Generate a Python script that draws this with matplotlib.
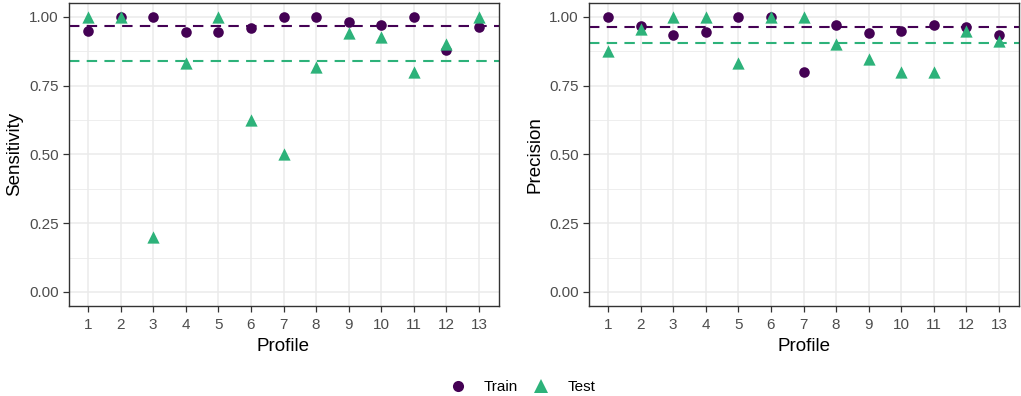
import matplotlib
matplotlib.use("Agg")
import matplotlib.pyplot as plt
from matplotlib.lines import Line2D
import numpy as np

plt.rcParams['font.family'] = ['Liberation Sans', 'DejaVu Sans']

profiles = list(range(1, 14))
sens_train = [0.95, 1.00, 1.00, 0.943, 0.946, 0.959, 1.00, 1.00, 0.98, 0.971, 1.00, 0.88, 0.964]
sens_test = [1.00, 1.00, 0.20, 0.833, 1.00, 0.625, 0.50, 0.818, 0.941, 0.925, 0.80, 0.90, 1.00]
prec_train = [1.00, 0.968, 0.934, 0.943, 1.00, 1.00, 0.80, 0.97, 0.941, 0.947, 0.97, 0.964, 0.934]
prec_test = [0.877, 0.954, 1.00, 1.00, 0.831, 1.00, 1.00, 0.90, 0.846, 0.80, 0.80, 0.95, 0.913]
sens_means = {"Train": 0.967, "Test": 0.838}
prec_means = {"Train": 0.964, "Test": 0.904}
yticks = [0.00, 0.25, 0.50, 0.75, 1.00]
ytick_labels = ["0.00", "0.25", "0.50", "0.75", "1.00"]

c_train = "#440154"
c_test = "#2DB27A"

W, H = 1021, 396
fig = plt.figure(figsize=(W / 100, H / 100), dpi=100)

def px_axes(x0, x1, ytop, ybot):
    return fig.add_axes([x0 / W, 1 - ybot / H, (x1 - x0) / W, (ybot - ytop) / H])

axL = px_axes(68.5, 498.5, 3, 305.7)
axR = px_axes(588.5, 1018.5, 3, 305.7)

def draw(ax, train, test, means, ylabel):
    ax.set_facecolor("white")
    for y in np.arange(0.125, 1.0, 0.25):
        ax.axhline(y, color="#EBEBEB", lw=0.6, zorder=0)
    for y in yticks:
        ax.axhline(y, color="#EBEBEB", lw=1.1, zorder=0)
    for x in profiles:
        ax.axvline(x, color="#EBEBEB", lw=1.1, zorder=0)
    ax.axhline(means["Train"], color=c_train, lw=1.5, ls=(0, (5, 3.5)), zorder=2)
    ax.axhline(means["Test"], color=c_test, lw=1.5, ls=(0, (5, 3.5)), zorder=2)
    ax.scatter(profiles, train, s=58, marker="o", color=c_train, linewidths=0, zorder=3)
    ax.scatter(profiles, test, s=78, marker="^", color=c_test, linewidths=0, zorder=4)
    ax.set_xlim(0.4, 13.6)
    ax.set_ylim(-0.05, 1.05)
    ax.set_xticks(profiles)
    ax.set_xticklabels([str(p) for p in profiles])
    ax.set_yticks(yticks)
    ax.set_yticklabels(ytick_labels)
    ax.tick_params(axis="both", length=4, width=0.9, color="#333333",
                   labelcolor="#4D4D4D", labelsize=11)
    ax.tick_params(axis="x", pad=4.5)
    ax.tick_params(axis="y", pad=3)
    for s in ax.spines.values():
        s.set_color("#333333")
        s.set_linewidth(1.0)
    ax.set_xlabel("Profile", fontsize=13.5, labelpad=5)
    ax.set_ylabel(ylabel, fontsize=13.5, labelpad=4)

draw(axL, sens_train, sens_test, sens_means, "Sensitivity")
draw(axR, prec_train, prec_test, prec_means, "Precision")

handles = [
    Line2D([], [], marker="o", ls="", color=c_train, markersize=8, markeredgewidth=0, label="Train"),
    Line2D([], [], marker="^", ls="", color=c_test, markersize=9.5, markeredgewidth=0, label="Test"),
]
fig.legend(handles=handles, loc="center", bbox_to_anchor=(522 / W, 1 - 387 / H), ncol=2,
           frameon=False, fontsize=11, handletextpad=1.1, columnspacing=0.9,
           handlelength=1.2)

fig.savefig("out.png", dpi=100)
